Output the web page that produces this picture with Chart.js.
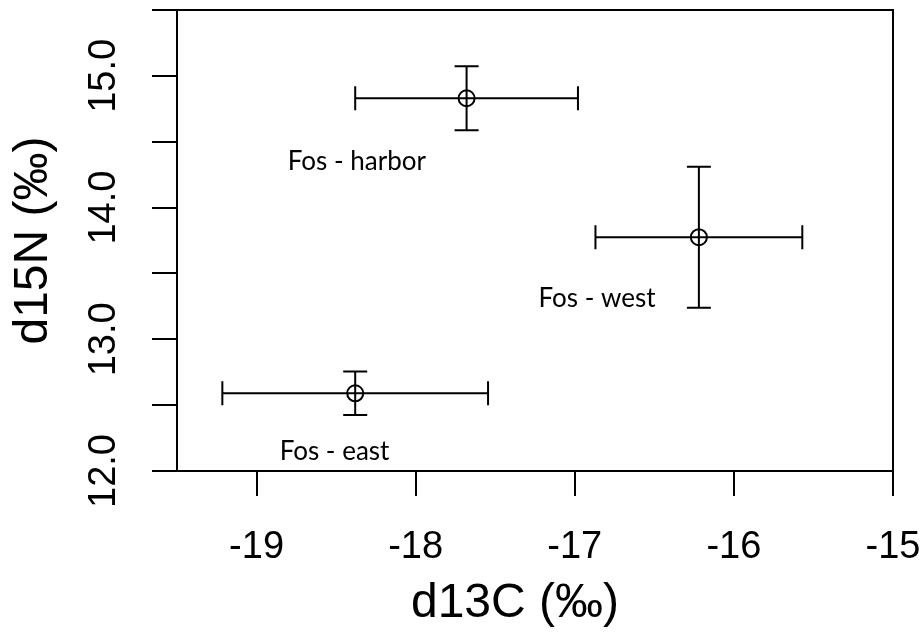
<!DOCTYPE html>
<html>
<head>
<meta charset="utf-8">
<title>d13C vs d15N</title>
<script src="https://cdn.jsdelivr.net/npm/chart.js@4.4.1/dist/chart.umd.min.js"></script>
<style>
  html, body { margin: 0; padding: 0; background: #fff; }
  #wrap { width: 924px; height: 633px; }
</style>
</head>
<body>
<div id="wrap"><canvas id="isoChart" width="924" height="633"></canvas></div>
<script>
// --- Data ---
const siteNames = ['Fos - harbor', 'Fos - west', 'Fos - east'];
const d13cMean = [-17.68, -16.22, -18.38];
const d13cSd = [0.70, 0.65, 0.835];
const d15nMean = [14.83, 13.775, 12.59];
const d15nSd = [0.243, 0.535, 0.165];

// where each site name is written (data units, text centre)
const labelX = [-18.37, -16.86, -18.51];
const labelY = [14.35, 13.31, 12.15];

const xTickValues = [-19, -18, -17, -16, -15];
const yTickValues = [12, 12.5, 13, 13.5, 14, 14.5, 15, 15.5];
const yLabelValues = [12, 13, 14, 15];

const ink = '#000';

// error bars in both directions, with caps
const errorBars = {
  id: 'errorBars',
  afterDatasetsDraw(chart) {
    const { ctx, scales: { x, y } } = chart;
    const cap = 12;
    ctx.save();
    ctx.strokeStyle = ink;
    ctx.lineWidth = 2;
    d13cMean.forEach((mx, i) => {
      const px = x.getPixelForValue(mx);
      const py = y.getPixelForValue(d15nMean[i]);
      const x0 = x.getPixelForValue(mx - d13cSd[i]);
      const x1 = x.getPixelForValue(mx + d13cSd[i]);
      const y0 = y.getPixelForValue(d15nMean[i] + d15nSd[i]);
      const y1 = y.getPixelForValue(d15nMean[i] - d15nSd[i]);
      ctx.beginPath();
      ctx.moveTo(x0, py); ctx.lineTo(x1, py);
      ctx.moveTo(x0, py - cap); ctx.lineTo(x0, py + cap);
      ctx.moveTo(x1, py - cap); ctx.lineTo(x1, py + cap);
      ctx.moveTo(px, y0); ctx.lineTo(px, y1);
      ctx.moveTo(px - cap, y0); ctx.lineTo(px + cap, y0);
      ctx.moveTo(px - cap, y1); ctx.lineTo(px + cap, y1);
      ctx.stroke();
    });
    ctx.restore();
  }
};

// site names written under the points
const siteLabels = {
  id: 'siteLabels',
  afterDatasetsDraw(chart) {
    const { ctx, scales: { x, y } } = chart;
    ctx.save();
    ctx.fillStyle = ink;
    ctx.font = '26px Lato';
    ctx.textAlign = 'center';
    ctx.textBaseline = 'middle';
    siteNames.forEach((name, i) => {
      ctx.fillText(name, x.getPixelForValue(labelX[i]), y.getPixelForValue(labelY[i]));
    });
    ctx.restore();
  }
};

// full box round the plot area, like R's box()
const plotBox = {
  id: 'plotBox',
  afterDraw(chart) {
    const { ctx, chartArea: a } = chart;
    ctx.save();
    ctx.strokeStyle = ink;
    ctx.lineWidth = 2;
    ctx.strokeRect(a.left, a.top, a.right - a.left, a.bottom - a.top);
    ctx.restore();
  }
};

Chart.defaults.font.family = '"Liberation Sans", Arial, sans-serif';
Chart.defaults.color = ink;

new Chart(document.getElementById('isoChart'), {
  type: 'scatter',
  data: {
    datasets: [{
      data: d13cMean.map((v, i) => ({ x: v, y: d15nMean[i] })),
      pointStyle: 'circle',
      pointRadius: 8,
      pointBorderWidth: 2,
      borderColor: ink,
      backgroundColor: 'rgba(0,0,0,0)',
    }]
  },
  options: {
    responsive: false,
    animation: false,
    events: [],
    layout: { padding: { left: 0, right: 31, top: 10, bottom: 0 } },
    plugins: { legend: { display: false }, tooltip: { enabled: false } },
    scales: {
      x: {
        type: 'linear',
        min: -19.5,
        max: -15,
        afterBuildTicks: s => { s.ticks = xTickValues.map(v => ({ value: v })); },
        afterFit: s => {
          s.height = 162;
          s.paddingLeft = 0; s.paddingRight = 0;
        },
        grid: { drawOnChartArea: false, tickLength: 25, color: ink, lineWidth: 2 },
        border: { display: true, color: ink, width: 2 },
        ticks: {
          autoSkip: false,
          maxRotation: 0,
          padding: 29,
          font: { size: 38 },
          callback: v => String(v),
        },
        title: {
          display: true,
          // trailing spaces nudge the centred title a little left, as in the original
          text: 'd13C (‰)   ',
          font: { size: 48 },
          padding: { top: 0, bottom: 0 },
        },
      },
      y: {
        type: 'linear',
        min: 12,
        max: 15.5,
        afterBuildTicks: s => { s.ticks = yTickValues.map(v => ({ value: v })); },
        afterFit: s => {
          s.width = 177;
          s.paddingTop = 0; s.paddingBottom = 0;
        },
        grid: { drawOnChartArea: false, tickLength: 25, color: ink, lineWidth: 2 },
        border: { display: true, color: ink, width: 2 },
        ticks: {
          autoSkip: false,
          minRotation: 90,
          maxRotation: 90,
          crossAlign: 'center',
          padding: 11,
          font: { size: 38 },
          callback: v => (yLabelValues.includes(v) ? v.toFixed(1) : ''),
        },
        title: {
          display: true,
          text: 'd15N (‰)',
          font: { size: 48 },
          padding: { top: 5, bottom: 0 },
        },
      },
    },
  },
  plugins: [errorBars, siteLabels, plotBox],
});
</script>
</body>
</html>
